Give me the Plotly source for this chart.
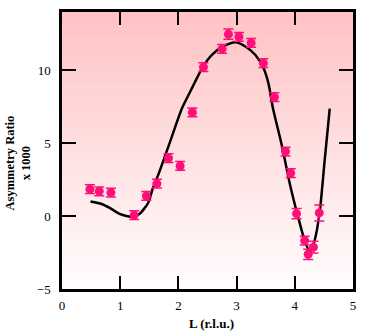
import plotly.graph_objects as go

# Measured data points
L_data = [0.48, 0.64, 0.84, 1.24, 1.45, 1.63, 1.83, 2.03, 2.24, 2.43, 2.75, 2.86,
          3.04, 3.25, 3.46, 3.65, 3.84, 3.93, 4.03, 4.17, 4.23, 4.32, 4.42]
A_data = [1.85, 1.70, 1.61, 0.07, 1.38, 2.23, 3.98, 3.44, 7.11, 10.22, 11.47, 12.48,
          12.30, 11.88, 10.49, 8.16, 4.43, 2.95, 0.17, -1.68, -2.62, -2.13, 0.22]
A_err = [0.3, 0.3, 0.3, 0.3, 0.3, 0.3, 0.3, 0.3, 0.3, 0.3, 0.3, 0.35,
         0.3, 0.3, 0.3, 0.3, 0.3, 0.3, 0.35, 0.3, 0.35, 0.4, 0.55]

# Model curve
L_fit = [0.49, 0.68, 0.82, 0.99, 1.19, 1.33, 1.48, 1.56, 1.67, 1.87, 2.06, 2.24,
         2.41, 2.58, 2.78, 2.98, 3.15, 3.32, 3.46, 3.55, 3.62, 3.78, 3.92, 4.06,
         4.17, 4.26, 4.34, 4.43, 4.51, 4.60]
A_fit = [1.0, 0.83, 0.56, 0.15, -0.05, 0.15, 0.9, 1.9, 3.0, 5.25, 7.38, 8.83,
         10.17, 11.07, 11.68, 11.92, 11.63, 11.07, 10.17, 9.06, 7.49, 4.8, 2.12, -0.11,
         -1.68, -2.46, -1.68, 0.34, 3.69, 7.38]

x_ticks = [0, 1, 2, 3, 4, 5]
y_ticks = [-5, 0, 5, 10]

PINK = "#ff0f78"
FONT = "Liberation Serif"

fig = go.Figure()

# gradient background
n = 60
top = (255, 194, 196)
bot = (255, 253, 253)
shapes = []
for i in range(n):
    t = i / (n - 1)
    c = tuple(round(bot[k] + (top[k] - bot[k]) * t) for k in range(3))
    shapes.append(dict(type="rect", xref="paper", yref="paper",
                       x0=0, x1=1, y0=i / n, y1=(i + 1) / n + 0.002,
                       fillcolor="rgb(%d,%d,%d)" % c, line=dict(width=0),
                       layer="below"))

fig.add_trace(go.Scatter(x=L_fit, y=A_fit, mode="lines",
                         line=dict(color="black", width=2.5, shape="spline", smoothing=0.6),
                         hoverinfo="skip", showlegend=False))
fig.add_trace(go.Scatter(x=L_data, y=A_data, mode="markers",
                         marker=dict(color=PINK, size=9),
                         error_y=dict(type="data", array=A_err, color=PINK,
                                      thickness=1.5, width=5),
                         showlegend=False))

fig.update_layout(
    width=365, height=335,
    margin=dict(l=62, r=9, t=10, b=46),
    paper_bgcolor="white", plot_bgcolor="white",
    shapes=shapes,
    font=dict(family=FONT, size=13, color="black"),
    xaxis=dict(range=[0, 5], tickvals=x_ticks, ticks="inside", ticklen=13,
               tickwidth=1.5, tickcolor="black", showline=True, linecolor="black",
               linewidth=2.5, mirror="ticks", showgrid=False, zeroline=False,
               ticklabelstandoff=3, tickfont=dict(family=FONT, size=13)),
    yaxis=dict(range=[-5, 14], tickvals=y_ticks, ticks="inside", ticklen=14,
               tickwidth=1.5, tickcolor="black", showline=True, linecolor="black",
               linewidth=2.5, mirror="ticks", showgrid=False, zeroline=False,
               ticklabelstandoff=6, tickfont=dict(family=FONT, size=13)),
    annotations=[
        dict(text="<b>Asymmetry Ratio<br>x 1000</b>", xref="paper", yref="paper",
             x=-0.153, y=0.455, xanchor="center", yanchor="middle", textangle=-90,
             showarrow=False, font=dict(family=FONT, size=12.5)),
        dict(text="<b>L (r.l.u.)</b>", xref="paper", yref="paper",
             x=0.514, y=-0.125, xanchor="center", yanchor="middle",
             showarrow=False, font=dict(family=FONT, size=13)),
    ],
)

fig.write_html("out.html")
